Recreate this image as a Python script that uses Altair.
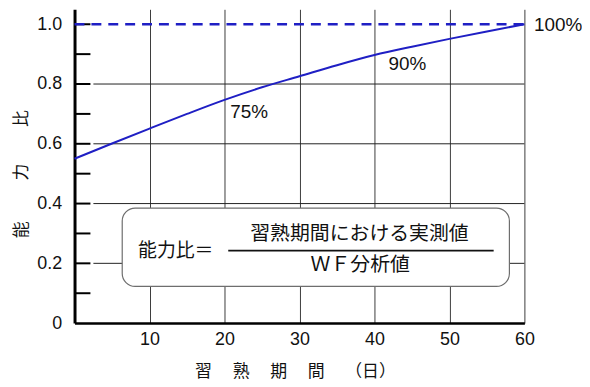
import altair as alt
import pandas as pd

# ---- data ----
days = [0, 5, 10, 15, 20, 25, 30, 35, 40, 45, 50, 55, 60]
ratio = [0.550, 0.601, 0.651, 0.700, 0.747, 0.789, 0.826, 0.863, 0.897, 0.925, 0.951, 0.976, 1.000]
target_ratio = 1.0

x_tick_values = [10, 20, 30, 40, 50, 60]
y_label_values = [0, 0.2, 0.4, 0.6, 0.8, 1.0]
y_minor_values = [0.1, 0.2, 0.3, 0.4, 0.5, 0.6, 0.7, 0.8, 0.9, 1.0]
y_grid_values = [0.2, 0.4, 0.6, 0.8]

pct_text = ["75%", "90%", "100%"]
pct_day = [23.3, 44.4, 64.5]
pct_ratio = [0.706, 0.866, 0.996]

formula_lhs = "能力比＝"
formula_num = "習熟期間における実測値"
formula_den = "ＷＦ分析値"

x_title = "習\u3000\u00a0熟\u3000\u00a0期\u3000\u00a0間\u3000\u00a0（日）"
# y-axis title, drawn one spaced character at a time (rotated)
y_title_chars = ["能", "力", "比"]
y_title_pos = [0.312, 0.505, 0.684]

# annotation box geometry (in data units)
box_left, box_right, box_top, box_bottom = 6.36, 58.0, 0.385, 0.123
lhs_day, lhs_ratio = 13.5, 0.2425
frac_left, frac_right, frac_ratio = 20.5, 55.9, 0.2425
num_day, num_ratio = 38.0, 0.297
den_day, den_ratio = 38.1, 0.193

BLUE = "#1f1fc4"
SANS = "Liberation Sans"
CJK = "Noto Sans CJK JP"

X_SCALE = alt.Scale(domain=[0, 60], nice=False, zero=False)
Y_SCALE = alt.Scale(domain=[0, 1.05], nice=False, zero=False)

W, H = 453, 316

x_axis = alt.Axis(
    values=x_tick_values, grid=True, gridColor="#3c3c3c", gridWidth=1,
    ticks=False, tickSize=0, domainColor="#000", domainWidth=2.5,
    labelFont=SANS, labelFontSize=18, labelColor="#111", labelPadding=8,
    labelFlush=False, labelOverlap=False,
    title=x_title, titleFont=CJK, titleFontSize=17, titleFontWeight="normal",
    titleColor="#111", titleX=222, titleY=49, titleAlign="center", titleBaseline="middle",
)
y_axis = alt.Axis(
    values=y_label_values, grid=False, ticks=False, tickSize=0,
    domainColor="#000", domainWidth=3,
    labelExpr="datum.value == 0 ? '0' : format(datum.value, '.1f')",
    labelFont=SANS, labelFontSize=18, labelColor="#111", labelPadding=13,
    labelFlush=False, labelOverlap=False,
    title=None,
)


def X(field):
    return alt.X(field, scale=X_SCALE, axis=x_axis)


def Y(field):
    return alt.Y(field, scale=Y_SCALE, axis=y_axis)


curve_df = pd.DataFrame({"day": days, "ratio": ratio})

curve = alt.Chart(curve_df).mark_line(
    color=BLUE, strokeWidth=2, interpolate="monotone"
).encode(x=X("day:Q"), y=Y("ratio:Q"))

ticks = alt.Chart(pd.DataFrame({"ratio": y_minor_values})).mark_rule(
    color="#000", strokeWidth=2
).encode(y=Y("ratio:Q"), x=alt.value(0), x2=alt.value(16))

hgrid = alt.Chart(pd.DataFrame({"ratio": y_grid_values})).mark_rule(
    color="#222", strokeWidth=1
).encode(y=Y("ratio:Q"), x=alt.value(19), x2=alt.value(W))

dashed = alt.Chart(pd.DataFrame({"day": [0], "day2": [60], "ratio": [target_ratio]})).mark_rule(
    color=BLUE, strokeWidth=2.5, strokeDash=[10, 7]
).encode(x=X("day:Q"), x2="day2:Q", y=Y("ratio:Q"))

box = alt.Chart(pd.DataFrame({"day": [box_left], "day2": [box_right],
                              "ratio": [box_top], "ratio2": [box_bottom]})).mark_rect(
    fill="white", stroke="#6e6e6e", strokeWidth=1.2, cornerRadius=13
).encode(x=X("day:Q"), x2="day2:Q", y=Y("ratio:Q"), y2="ratio2:Q")

frac = alt.Chart(pd.DataFrame({"day": [frac_left], "day2": [frac_right], "ratio": [frac_ratio]})).mark_rule(
    color="#111", strokeWidth=1.6
).encode(x=X("day:Q"), x2="day2:Q", y=Y("ratio:Q"))

lhs_df = pd.DataFrame({"t": [formula_lhs], "day": [lhs_day], "ratio": [lhs_ratio]})
lhs = alt.Chart(lhs_df).mark_text(
    font=CJK, fontSize=19, color="#111", align="center", baseline="middle"
).encode(x=X("day:Q"), y=Y("ratio:Q"), text="t:N")

frac_df = pd.DataFrame({
    "t": [formula_num, formula_den],
    "day": [num_day, den_day],
    "ratio": [num_ratio, den_ratio],
})
frac_text = alt.Chart(frac_df).mark_text(
    font=CJK, fontSize=20, color="#111", align="center", baseline="middle"
).encode(x=X("day:Q"), y=Y("ratio:Q"), text="t:N")

pct_df = pd.DataFrame({"t": pct_text, "day": pct_day, "ratio": pct_ratio})
pct = alt.Chart(pct_df).mark_text(
    font=SANS, fontSize=19, color="#111", align="center", baseline="middle"
).encode(x=X("day:Q"), y=Y("ratio:Q"), text="t:N")

ytitle_df = pd.DataFrame({"t": y_title_chars, "ratio": y_title_pos})
ytitle = alt.Chart(ytitle_df).mark_text(
    font=CJK, fontSize=17, color="#111", align="center", baseline="middle", angle=270
).encode(y=Y("ratio:Q"), x=alt.value(-53), text="t:N")

chart = alt.layer(
    hgrid, ticks, box, frac, lhs, frac_text, dashed, curve, pct, ytitle
).properties(
    width=W, height=H,
    autosize=alt.AutoSizeParams(type="none"),
    padding={"left": 67, "top": 0, "right": 58, "bottom": 60},
    background="white",
).configure_view(stroke=None)

chart.save("out.html", embed_options={"renderer": "svg", "actions": False})
